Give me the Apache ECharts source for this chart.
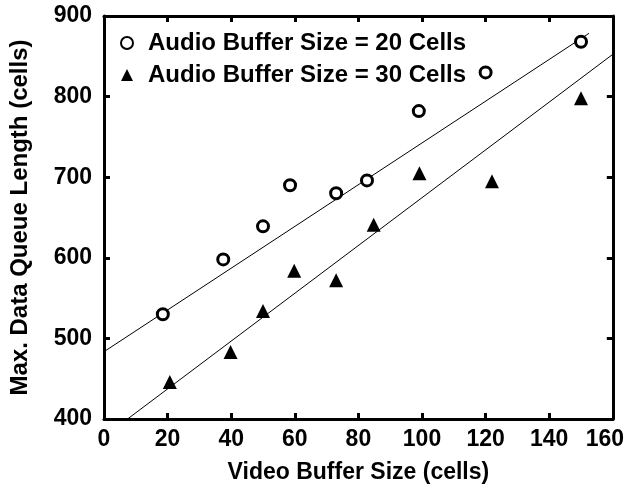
<!DOCTYPE html>
<html>
<head>
<meta charset="utf-8">
<script src="https://cdn.jsdelivr.net/npm/echarts@6/dist/echarts.min.js"></script>
<style>html,body{margin:0;padding:0;background:#fff;}#c{width:627px;height:489px;}</style>
</head>
<body>
<div id="c"></div>
<script>
// Data
var seriesNames = ['Audio Buffer Size = 20 Cells', 'Audio Buffer Size = 30 Cells'];
var audio20X = [18.5, 37.5, 50, 58.5, 73, 82.7, 99, 120, 150];
var audio20Y = [530, 598, 639, 690, 680, 696, 782, 830, 868];
var audio30X = [20.7, 39.8, 50, 59.8, 73, 84.8, 99.2, 122, 150];
var audio30Y = [446, 483, 534, 584, 572, 641, 705, 695, 798];
// Fitted trend lines (endpoints)
var fit20X = [0, 152.5];
var fit20Y = [483.5, 878.5];
var fit30X = [7.4, 160];
var fit30Y = [400, 852.5];
var xTicks = [0, 20, 40, 60, 80, 100, 120, 140, 160];
var yTicks = [400, 500, 600, 700, 800, 900];

function zip(xs, ys) { return xs.map(function (x, i) { return [x, ys[i]]; }); }

var FONT = 'Liberation Sans, Arial, Helvetica, sans-serif';
var chart = echarts.init(document.getElementById('c'), null, {renderer: 'canvas'});
var frameLine = {show: true, onZero: false, lineStyle: {color: '#000', width: 3}};
var tick = {show: true, inside: true, length: 6, lineStyle: {color: '#000', width: 3}};
var lab = {fontFamily: FONT, fontWeight: 'bold', fontSize: 23, color: '#000'};
chart.setOption({
  animation: false,
  backgroundColor: '#fff',
  grid: {left: 102, right: 14, top: 16, bottom: 70},
  legend: {
    data: seriesNames,
    orient: 'vertical',
    left: 115,
    top: 26,
    itemWidth: 12,
    itemHeight: 12,
    itemGap: 8,
    textStyle: {fontFamily: FONT, fontWeight: 'bold', fontSize: 24, color: '#000', padding: [0, 0, 0, 10]}
  },
  xAxis: [{
    type: 'value', min: xTicks[0], max: xTicks[xTicks.length - 1], interval: 20,
    name: 'Video Buffer Size (cells)', nameLocation: 'middle', nameGap: 42,
    nameTextStyle: {fontFamily: FONT, fontWeight: 'bold', fontSize: 23, color: '#000'},
    axisLine: frameLine, axisTick: tick, splitLine: {show: false},
    axisLabel: {
      fontFamily: FONT, fontWeight: 'bold', fontSize: 23, color: '#000', margin: 9,
      formatter: function (v) {
        if (v === 120) return '{up|' + v + '}';
        if (v === 160) return '{end|' + v + '}';
        return '' + v;
      },
      rich: {
        up: Object.assign({padding: [0, 0, 10, 0]}, lab),
        end: Object.assign({padding: [0, 16, 0, 0]}, lab)
      }
    }
  }, {
    type: 'value', position: 'top', min: xTicks[0], max: xTicks[xTicks.length - 1], interval: 20,
    axisLine: frameLine, axisTick: tick, axisLabel: {show: false}, splitLine: {show: false}
  }],
  yAxis: [{
    type: 'value', min: yTicks[0], max: yTicks[yTicks.length - 1], interval: 100,
    name: 'Max. Data Queue Length (cells)', nameLocation: 'middle', nameGap: 72,
    nameTextStyle: {fontFamily: FONT, fontWeight: 'bold', fontSize: 24, color: '#000'},
    axisLine: frameLine, axisTick: tick, splitLine: {show: false},
    axisLabel: {fontFamily: FONT, fontWeight: 'bold', fontSize: 23, color: '#000', margin: 12}
  }, {
    type: 'value', position: 'right', min: yTicks[0], max: yTicks[yTicks.length - 1], interval: 100,
    axisLine: frameLine, axisTick: tick, axisLabel: {show: false}, splitLine: {show: false}
  }],
  series: [{
    name: 'fit20', type: 'line', data: zip(fit20X, fit20Y), showSymbol: false, symbol: 'none',
    lineStyle: {color: '#000', width: 1}, z: 1, silent: true
  }, {
    name: 'fit30', type: 'line', data: zip(fit30X, fit30Y), showSymbol: false, symbol: 'none',
    lineStyle: {color: '#000', width: 1}, z: 1, silent: true
  }, {
    name: seriesNames[0], type: 'scatter', data: zip(audio20X, audio20Y),
    symbol: 'circle', symbolSize: 11,
    itemStyle: {color: '#fff', borderColor: '#000', borderWidth: 3, opacity: 1}, z: 3
  }, {
    name: seriesNames[1], type: 'scatter', data: zip(audio30X, audio30Y),
    symbol: 'triangle', symbolSize: 14,
    itemStyle: {color: '#000', opacity: 1}, z: 3
  }]
});
</script>
</body>
</html>
